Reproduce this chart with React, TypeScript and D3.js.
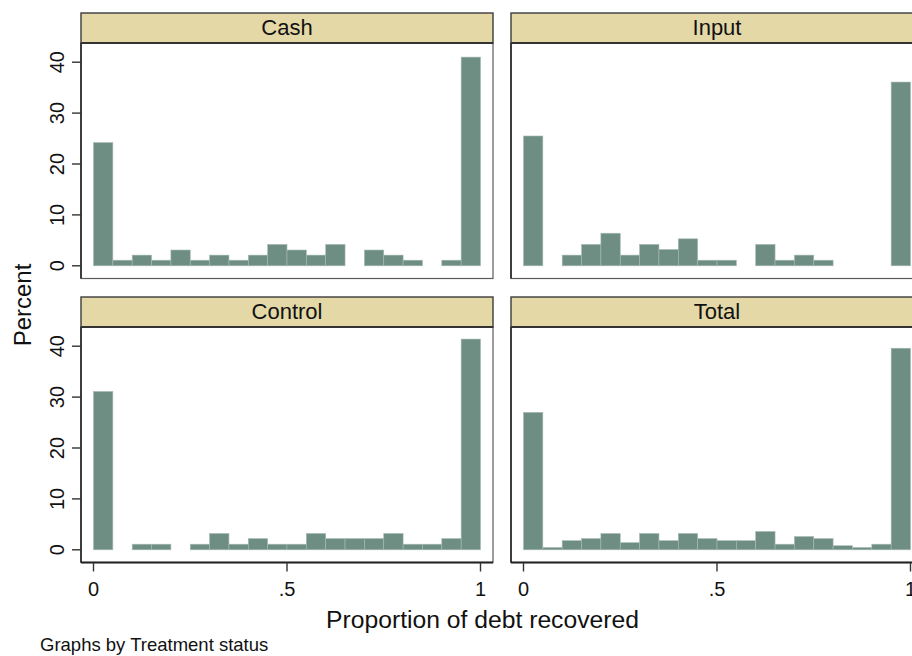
import React from "react";
import * as d3 from "d3";

const panelNames = ["Cash", "Input", "Control", "Total"];
const binEdges = d3.range(0, 21).map((i) => i / 20);

const cashPct = [24.2, 1.1, 2.1, 1.1, 3.1, 1.1, 2.1, 1.1, 2.1, 4.2, 3.1, 2.1, 4.2, 0, 3.1, 2.1, 1.1, 0, 1.1, 41.0];
const inputPct = [25.5, 0, 2.1, 4.2, 6.4, 2.1, 4.2, 3.2, 5.3, 1.1, 1.1, 0, 4.2, 1.1, 2.1, 1.1, 0, 0, 0, 36.1];
const controlPct = [31.1, 0, 1.1, 1.1, 0, 1.1, 3.2, 1.1, 2.2, 1.1, 1.1, 3.2, 2.2, 2.2, 2.2, 3.2, 1.1, 1.1, 2.2, 41.4];
const totalPct = [27.0, 0.45, 1.8, 2.2, 3.2, 1.4, 3.2, 1.8, 3.2, 2.2, 1.8, 1.8, 3.6, 1.1, 2.6, 2.2, 0.8, 0.45, 1.1, 39.6];

const seriesList = [cashPct, inputPct, controlPct, totalPct];
const yTicks = [0, 10, 20, 30, 40];
const xTicks = [0, 0.5, 1];
const xTickLabels = ["0", ".5", "1"];

const FONT = "'Liberation Sans', Arial, sans-serif";

export default function App() {
  const W = 912, H = 656;
  const colX = [81, 511];
  const rowTop = [13, 297];
  const panelW = 412;
  const headerH = 30;
  const plotH = 235.5;
  const barFill = "#6f8e83";

  return (
    <svg width={W} height={H} style={{ position: "absolute", left: 0, top: 0, background: "#fff" }} fontFamily={FONT}>
      <rect x={0} y={0} width={W} height={H} fill="#ffffff" />
      {panelNames.map((name, i) => {
        const col = i % 2;
        const row = Math.floor(i / 2);
        const x0 = colX[col];
        const hTop = rowTop[row];
        const pTop = hTop + headerH;
        const x = d3.scaleLinear().domain([0, 1]).range([x0 + 12.5, x0 + panelW - 12.5]);
        const y = d3.scaleLinear().domain([0, 40]).range([pTop + 222.8, pTop + 19.2]);
        const vals = seriesList[i];
        return (
          <g key={name}>
            <rect x={x0} y={pTop} width={panelW} height={plotH} fill="#ffffff" stroke="#5a5a5a" strokeWidth={1.2} />
            {vals.map((v, b) =>
              v > 0 ? (
                <rect
                  key={b}
                  x={x(binEdges[b])}
                  y={y(v)}
                  width={x(binEdges[b + 1]) - x(binEdges[b])}
                  height={y(0) - y(v)}
                  fill={barFill}
                  stroke="#a6bab3"
                  strokeWidth={0.6}
                />
              ) : null
            )}
            <rect x={x0} y={hTop} width={panelW} height={headerH} fill="#e4d8a6" stroke="#3c3c3c" strokeWidth={1.4} />
            <line x1={x0} x2={x0 + panelW} y1={pTop} y2={pTop} stroke="#333" strokeWidth={2} />
            <text x={x0 + panelW / 2} y={hTop + 22} textAnchor="middle" fontSize={22} fill="#111">
              {name}
            </text>
            <line x1={x0} x2={x0} y1={pTop} y2={pTop + plotH} stroke="#333" strokeWidth={1.8} />
            {col === 0 &&
              yTicks.map((t) => (
                <g key={t}>
                  <line x1={x0 - 9} x2={x0} y1={y(t)} y2={y(t)} stroke="#333" strokeWidth={1.4} />
                  <text
                    transform={`translate(${x0 - 17},${y(t)}) rotate(-90)`}
                    textAnchor="middle"
                    fontSize={20}
                    fill="#111"
                  >
                    {t}
                  </text>
                </g>
              ))}
            {row === 1 && (
              <g>
                <line x1={x0} x2={x0 + panelW} y1={pTop + plotH} y2={pTop + plotH} stroke="#222" strokeWidth={1.8} />
                {xTicks.map((t, k) => (
                  <g key={t}>
                    <line x1={x(t)} x2={x(t)} y1={pTop + plotH} y2={pTop + plotH + 9} stroke="#333" strokeWidth={1.4} />
                    <text x={x(t)} y={596} textAnchor="middle" fontSize={20} fill="#111">
                      {xTickLabels[k]}
                    </text>
                  </g>
                ))}
              </g>
            )}
          </g>
        );
      })}
      <text transform="translate(31,305) rotate(-90)" textAnchor="middle" fontSize={24} fill="#111">
        Percent
      </text>
      <text x={482.5} y={628} textAnchor="middle" fontSize={24.7} fill="#111">
        Proportion of debt recovered
      </text>
      <text x={40} y={651} fontSize={18.5} fill="#111">
        Graphs by Treatment status
      </text>
    </svg>
  );
}
